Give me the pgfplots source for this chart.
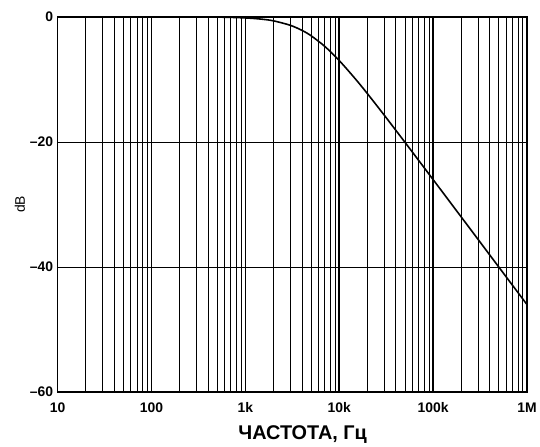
\documentclass[border=0pt]{standalone}
\usepackage{fontspec}
\setmainfont{Liberation Sans}
\usepackage{pgfplots}
\pgfplotsset{compat=1.18}
\usetikzlibrary{calc}
\begin{document}
\begin{tikzpicture}
\begin{axis}[
    scale only axis,
    width=473pt, height=378pt,
    xmode=log,
    xmin=10, xmax=1e6,
    ymin=-60, ymax=0,
    xtick={10,100,1000,10000,100000,1000000},
    xticklabels={10,100,1k,10k,100k,1M},
    minor xtick={20,30,40,50,60,70,80,90,
                 200,300,400,500,600,700,800,900,
                 2000,3000,4000,5000,6000,7000,8000,9000,
                 20000,30000,40000,50000,60000,70000,80000,90000,
                 200000,300000,400000,500000,600000,700000,800000,900000},
    ytick={-60,-40,-20,0},
    yticklabels={–60,–40,–20,0},
    xmajorgrids, xminorgrids, ymajorgrids,
    major x grid style={black, line width=1.6pt},
    minor x grid style={black, line width=0.7pt},
    major y grid style={black, line width=0.7pt},
    major tick length=0pt, minor tick length=0pt,
    axis line style={black, line width=1.6pt},
    tick label style={font=\fontsize{14}{16}\selectfont\bfseries},
    xticklabel style={yshift=-7pt},
    yticklabel style={xshift=-1pt},
    xlabel={\fontsize{20}{22}\selectfont\bfseries ЧАСТОТА, Гц},
    ylabel={\fontsize{14}{16}\selectfont dB},
    xlabel style={at={(axis description cs:0.522,-0.112)}, anchor=center},
    ylabel style={at={(axis description cs:-0.08,0.5)}, anchor=center},
]
\addplot[black, line width=1.6pt, smooth] coordinates {
    (10,0) (100,0) (500,-0.04) (1000,-0.17) (1500,-0.37) (2000,-0.64)
    (3000,-1.34) (4000,-2.15) (5000,-3.01) (7000,-4.71) (10000,-6.99)
    (15000,-10.0) (20000,-12.30) (30000,-15.68) (50000,-20.04)
    (70000,-22.94) (100000,-26.03) (200000,-32.04) (300000,-35.56)
    (500000,-40.00) (1000000,-46.02)
};
\end{axis}
\path ($(current axis.south west)+(-58pt,-51pt)$) rectangle ($(current axis.north east)+(9pt,17pt)$);
\end{tikzpicture}
\end{document}
